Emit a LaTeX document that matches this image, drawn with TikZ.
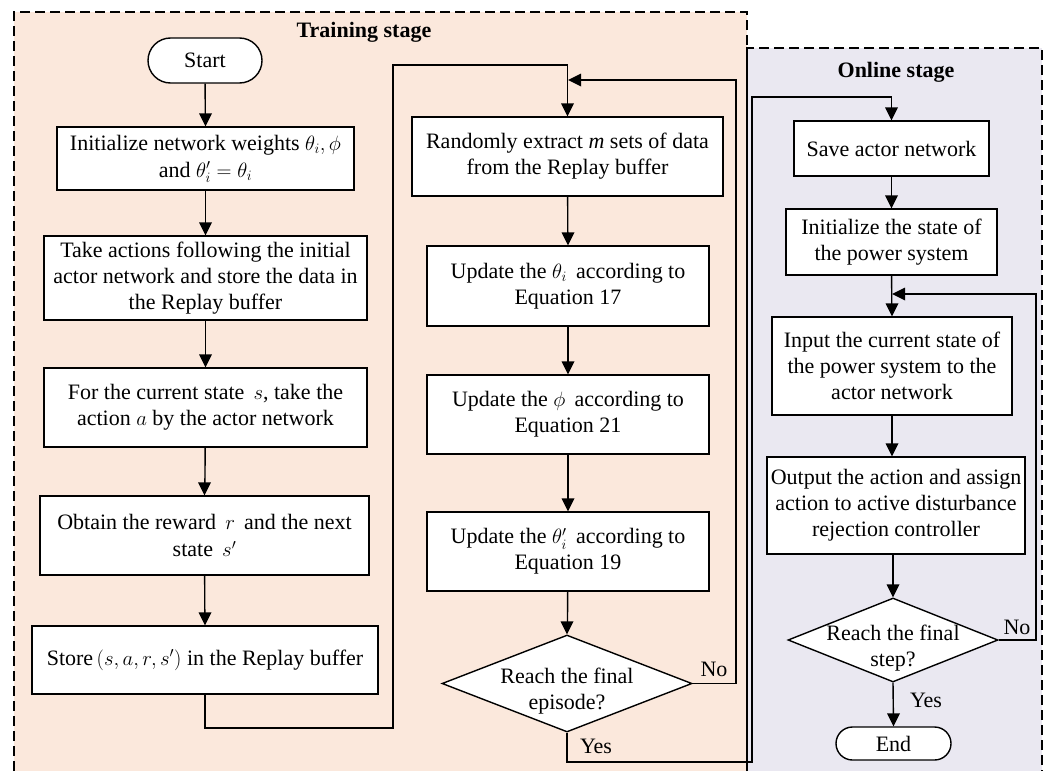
\documentclass[tikz,border=0pt]{standalone}
\usepackage{fontspec}
\setmainfont{Liberation Serif}
\usetikzlibrary{shapes.geometric,shapes.misc}
\definecolor{trainbg}{RGB}{251,232,220}
\definecolor{onlinebg}{RGB}{234,232,241}
\newcommand\arrD[1]{\fill[black] #1 -- ++(-6.5,13) -- ++(13,0) -- cycle;}
\newcommand\arrL[1]{\fill[black] #1 -- ++(13,6.5) -- ++(0,-13) -- cycle;}
\begin{document}
\begin{tikzpicture}[x=1pt,y=1pt,
  font=\fontsize{22}{26}\selectfont,
  box/.style={draw,line width=1.4pt,fill=white,align=center,inner sep=0pt},
  term/.style={draw,line width=1.4pt,fill=white,rounded rectangle,inner sep=0pt},
  dec/.style={draw,line width=1.4pt,fill=white,diamond,inner sep=0pt},
  arr/.style={line width=1.4pt,shorten >=8pt},
  stageline/.style={line width=1.5pt,dash pattern=on 10pt off 5pt},
  ttl/.style={font=\fontsize{22}{26}\selectfont\bfseries},
  lbl/.style={inner sep=0pt}
]
\useasboundingbox (0,0) rectangle (1046,-771);
% stage backgrounds
\fill[trainbg] (14,-12) rectangle (747,-771);
\fill[onlinebg] (747,-48) rectangle (1042,-771);
\draw[stageline] (14,-771) -- (14,-12) -- (747,-12) -- (747,-771);
\draw[stageline] (747,-771) -- (747,-48) -- (1042,-48) -- (1042,-771);
\node[ttl] (ttrain) at (364,-32) {Training stage};
\node[ttl] (tonline) at (896,-72) {Online stage};

% left column
\node[term,minimum width=114pt,minimum height=45pt] (start) at (205,-60.5) {Start};
\node[box,minimum width=297pt,minimum height=63pt] (init) at (205.5,-158.5) {Initialize network weights $\theta_i,\phi$\\[1pt]and $\theta_i'=\theta_i$};
\node[box,minimum width=323pt,minimum height=84pt] (take) at (205.5,-278) {Take actions following the initial\\actor network and store the data in\\the Replay buffer};
\node[box,minimum width=323pt,minimum height=79pt] (cur) at (205.5,-407.5) {For the current state \,$s$, take the\\action $a$ by the actor network};
\node[box,minimum width=329pt,minimum height=79pt] (obt) at (204.5,-535.5) {Obtain the reward \,$r$\, and the next\\[1pt]state \,$s'$};
\node[box,minimum width=346pt,minimum height=68pt] (store) at (205,-660) {Store$\,\bigl(s,a,r,s'\bigr)$ in the Replay buffer};

% middle column
\node[box,minimum width=311pt,minimum height=79pt] (rand) at (567.5,-156.5) {Randomly extract \textit{m} sets of data\\from the Replay buffer};
\node[box,minimum width=282pt,minimum height=80pt] (upd1) at (568,-286) {Update the $\theta_i$\, according to\\Equation 17};
\node[box,minimum width=282pt,minimum height=79pt] (upd2) at (568,-414.5) {Update the $\phi$\, according to\\Equation 21};
\node[box,minimum width=282pt,minimum height=79pt] (upd3) at (568,-551.5) {Update the $\theta_i'$\, according to\\Equation 19};
\node[dec,minimum width=250pt,minimum height=97pt,
  label={[align=center,inner sep=0pt,yshift=-8pt]center:Reach the final\\episode?}] (dia1) at (567,-683.5) {};

% right column
\node[box,minimum width=195pt,minimum height=55pt] (save) at (891.5,-148.5) {Save actor network};
\node[box,minimum width=211pt,minimum height=66pt] (initst) at (891.5,-242) {Initialize the state of\\the power system};
\node[box,minimum width=240pt,minimum height=98pt] (input) at (892,-366) {Input the current state of\\the power system to the\\actor network};
\node[box,minimum width=258pt,minimum height=97pt] (output) at (896,-505.5) {Output the action and assign\\action to active disturbance\\rejection controller};
\node[dec,minimum width=210pt,minimum height=84pt,
  label={[align=center,inner sep=0pt,yshift=-8pt]center:Reach the final\\step?}] (dia2) at (893,-640) {};
\node[term,minimum width=115pt,minimum height=33pt] (end) at (893.5,-743.5) {End};

% coordinates
\coordinate (sA) at (393,-728);
\coordinate (sB) at (393,-65);
\coordinate (mA) at (568,-80);
\coordinate (nA) at (736,-683.5);
\coordinate (yA) at (567,-762);
\coordinate (yB) at (752,-762);
\coordinate (yC) at (752,-97);
\coordinate (rA) at (892,-294);
\coordinate (rB) at (1036,-640);

% left arrows
\draw[arr] (start) -- (init); \arrD{(init.north)}
\draw[arr] (init) -- (take); \arrD{(take.north)}
\draw[arr] (take) -- (cur); \arrD{(cur.north)}
\draw[arr] (cur) -- (obt); \arrD{(obt.north)}
\draw[arr] (obt) -- (store); \arrD{(store.north)}
\draw[arr] (store.south) |- (sA) -- (sB) -| (rand.north); \arrD{(rand.north)}
% middle arrows
\draw[arr] (rand) -- (upd1); \arrD{(upd1.north)}
\draw[arr] (upd1) -- (upd2); \arrD{(upd2.north)}
\draw[arr] (upd2) -- (upd3); \arrD{(upd3.north)}
\draw[arr] (upd3) -- (dia1); \arrD{(dia1.north)}
\draw[arr] (dia1.east) -- (nA) |- (mA); \arrL{(mA)}
\draw[arr] (dia1.south) -- (yA) -- (yB) -- (yC) -| (save.north); \arrD{(save.north)}
% right arrows
\draw[arr] (save) -- (initst); \arrD{(initst.north)}
\draw[arr] (initst) -- (input); \arrD{(input.north)}
\draw[arr] (input.south) -- (input.south |- output.north); \arrD{(input.south |- output.north)}
\draw[arr] (output.south -| dia2.north) -- (dia2.north); \arrD{(dia2.north)}
\draw[arr] (dia2.south) -- (end.north); \arrD{(end.north)}
\draw[arr] (dia2.east) -- (rB) |- (rA); \arrL{(rA)}

% branch labels
\node[lbl] (no1) at (714,-669) {No};
\node[lbl] (yes1) at (596,-746) {Yes};
\node[lbl] (no2) at (1017,-627) {No};
\node[lbl] (yes2) at (926,-700) {Yes};
\end{tikzpicture}
\end{document}
